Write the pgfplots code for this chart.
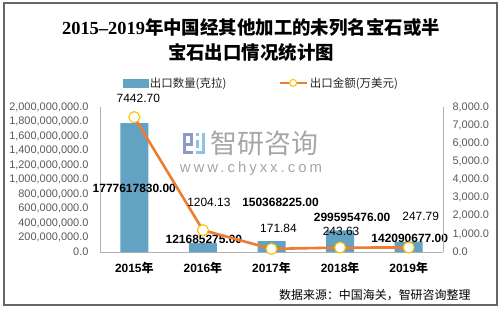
\documentclass[border=0pt]{standalone}
\usepackage{pgfplots}
\pgfplotsset{compat=1.18}
\usepackage{fontspec}
\setmainfont{Liberation Sans}
\newfontfamily\cjk{Noto Sans CJK SC}
\newfontfamily\serifb{Liberation Serif}
\definecolor{barblue}{HTML}{62A2C2}
\definecolor{lineorange}{HTML}{ED7D31}
\definecolor{gold}{HTML}{FFC000}
\definecolor{ticktext}{HTML}{595959}
\definecolor{wm}{HTML}{A6A6A6}
\definecolor{logo}{HTML}{8E9AC6}
\definecolor{logob}{HTML}{8CC3E6}
\begin{document}
\begin{tikzpicture}
\path (0,0) rectangle (501bp,312bp);
\draw[gray!80!black, line width=1.2bp] (4bp,7bp) rectangle (497bp,309bp);
% title
\node[align=center, font=\fontsize{18.5}{25}\selectfont\bfseries] at (251bp,272bp)
  {{\serifb 2015–2019}{\cjk 年中国经其他加工的未列名宝石或半}\\{\cjk 宝石出口情况统计图}};
% watermark
\fill[logo] (183bp,176bp) rectangle (193bp,179bp);
\fill[logo] (183bp,158bp) rectangle (186bp,179bp);
\fill[logo] (190bp,166bp) rectangle (193bp,179bp);
\fill[logo] (186bp,166bp) rectangle (193bp,169bp);
\fill[logo] (183bp,158bp) rectangle (193bp,161bp);
\fill[logob] (196bp,158bp) rectangle (205bp,161bp);
\fill[logob] (202bp,158bp) rectangle (205bp,179bp);
\fill[logob] (196bp,176bp) rectangle (199bp,179bp);
\fill[logob] (196bp,164bp) rectangle (199bp,172bp);
\node[wm, font=\fontsize{27}{30}\selectfont\cjk] at (264.5bp,169bp) {智研咨询};
\node[wm, font=\fontsize{15}{16}\selectfont\addfontfeature{LetterSpace=20}] at (251bp,143bp) {www.chyxx.com};
% source
\node[anchor=east, font=\fontsize{12}{14}\selectfont\cjk] at (474bp,17bp) {数据来源：中国海关，智研咨询整理};
\begin{axis}[
  at={(100bp,60bp)}, anchor=south west, scale only axis,
  width=343bp, height=145bp,
  xmin=-0.5, xmax=4.5, ymin=0, ymax=2000000000,
  axis x line*=bottom, axis y line*=left,
  axis line style={draw=gray!60, line width=0.8bp, -},
  major tick length=0pt,
  scaled y ticks=false,
  xtick={0,1,2,3,4},
  xticklabels={2015{\cjk 年},2016{\cjk 年},2017{\cjk 年},2018{\cjk 年},2019{\cjk 年}},
  xticklabel style={font=\fontsize{12}{14}\selectfont\bfseries, yshift=-7bp},
  ytick={0,2e8,4e8,6e8,8e8,1e9,1.2e9,1.4e9,1.6e9,1.8e9,2e9},
  yticklabels={0.0,{200,000,000.0},{400,000,000.0},{600,000,000.0},{800,000,000.0},{1,000,000,000.0},{1,200,000,000.0},{1,400,000,000.0},{1,600,000,000.0},{1,800,000,000.0},{2,000,000,000.0}},
  yticklabel style={font=\fontsize{11}{12}\selectfont, text=ticktext, xshift=-8bp},
  clip=false,
]
\addplot[ybar, bar width=28bp, fill=barblue, draw=none] coordinates {
  (0,1777617830) (1,121685275) (2,150368225) (3,299595476) (4,142090677)};
\begin{scope}[font=\fontsize{12}{14}\selectfont\bfseries]
\node at (axis cs:0,1777617830) [yshift=-65bp] {1777617830.00};
\node at (axis cs:1,121685275) [yshift=4bp, xshift=1bp] {121685275.00};
\node at (axis cs:2,150368225) [yshift=39bp, xshift=9bp] {150368225.00};
\node at (axis cs:3,299595476) [yshift=13bp, xshift=12bp] {299595476.00};
\node at (axis cs:4,142090677) [yshift=3bp, xshift=1bp] {142090677.00};
\end{scope}
\end{axis}
\begin{axis}[
  at={(100bp,60bp)}, anchor=south west, scale only axis,
  width=343bp, height=145bp,
  xmin=-0.5, xmax=4.5, ymin=0, ymax=8000,
  axis x line=none, axis y line*=right,
  axis line style={draw=gray!60, line width=0.8bp, -},
  major tick length=0pt,
  ytick={0,1000,2000,3000,4000,5000,6000,7000,8000},
  yticklabels={0.0,{1,000.0},{2,000.0},{3,000.0},{4,000.0},{5,000.0},{6,000.0},{7,000.0},{8,000.0}},
  yticklabel style={font=\fontsize{11}{12}\selectfont, text=ticktext, xshift=6bp},
  clip=false,
  legend style={at={(0.47,1.166)}, anchor=center, draw=none, fill=none,
    font=\fontsize{11.5}{13}\selectfont\cjk, text=black!85,
    /tikz/every even column/.append style={column sep=50bp},
    inner sep=0pt},
  legend columns=2,
  legend cell align=left,
]
\addlegendimage{legend image code/.code={\fill[barblue] (0bp,-4bp) rectangle (25bp,4bp);}}
\addlegendentry{出口数量(克拉)}
\addplot[lineorange, line width=2.6bp, mark=*, mark size=5.5bp,
  mark options={fill=white, draw=gold, line width=1.1bp},
  legend image code/.code={\draw[lineorange,line width=2.6bp] (0bp,0bp) -- (27bp,0bp);
    \draw[gold, fill=white, line width=1bp] (13.5bp,0bp) circle (3.5bp);}]
  coordinates {(0,7442.70) (1,1204.13) (2,171.84) (3,243.63) (4,247.79)};
\addlegendentry{出口金额(万美元)}
\begin{scope}[font=\fontsize{12}{14}\selectfont]
\node at (axis cs:0,7442.70) [yshift=19bp, xshift=4bp] {7442.70};
\node at (axis cs:1,1204.13) [yshift=28bp, xshift=6bp] {1204.13};
\node at (axis cs:2,171.84) [yshift=21bp, xshift=7bp] {171.84};
\node at (axis cs:3,243.63) [yshift=16bp, xshift=1bp] {243.63};
\node at (axis cs:4,247.79) [yshift=31bp, xshift=12bp] {247.79};
\end{scope}
\end{axis}
\end{tikzpicture}
\end{document}
